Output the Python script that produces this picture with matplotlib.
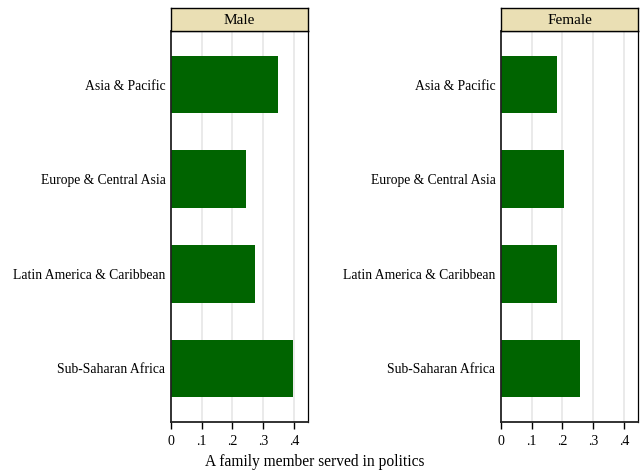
import matplotlib
matplotlib.use("Agg")
import matplotlib.pyplot as plt

# Dados
regioes = ["Asia & Pacific", "Europe & Central Asia", "Latin America & Caribbean", "Sub-Saharan Africa"]
homens = [0.347, 0.243, 0.273, 0.398]
mulheres = [0.183, 0.204, 0.182, 0.258]
paineis = ["Male", "Female"]
ticks_x = [0, 0.1, 0.2, 0.3, 0.4]
rotulos_x = ["0", ".1", ".2", ".3", ".4"]

plt.rcParams["font.family"] = ["Liberation Serif", "DejaVu Serif"]

W, H = 643, 475
fig = plt.figure(figsize=(W / 100, H / 100), dpi=100)

verde = "#006400"
bege = "#EADFB4"

def painel(x0, valores, titulo):
    ax = fig.add_axes([x0 / W, 1 - 422.3 / H, 137.3 / W, 391.6 / H])
    pos = list(range(len(regioes)))
    ax.barh(pos, valores, height=0.61, color=verde, edgecolor="none", zorder=3)
    ax.set_ylim(3.57, -0.57)
    ax.set_xlim(0, 0.447)
    ax.set_yticks(pos)
    ax.set_yticklabels(regioes, fontsize=9.8)
    ax.tick_params(axis="y", length=0, pad=4)
    ax.set_xticks(ticks_x)
    ax.set_xticklabels(rotulos_x, fontsize=10)
    ax.tick_params(axis="x", length=5, width=1, pad=4, direction="out")
    for t in ticks_x[1:]:
        ax.axvline(t, color="#e6e6e6", lw=1.2, zorder=1)
    for s in ["top", "right"]:
        ax.spines[s].set_linewidth(0.9)
        ax.spines[s].set_color("black")
    for s in ["left", "bottom"]:
        ax.spines[s].set_linewidth(1.3)
        ax.spines[s].set_color("#222222")
    ax.spines["left"].set_zorder(4)

    # cabeçalho do painel
    hd = fig.add_axes([x0 / W, 1 - 30.7 / H, 137.3 / W, 22.4 / H])
    hd.set_facecolor(bege)
    hd.set_xticks([])
    hd.set_yticks([])
    for s in hd.spines.values():
        s.set_linewidth(1.0)
        s.set_color("black")
    hd.text(0.5, 0.45, titulo, ha="center", va="center", fontsize=11)
    return ax

painel(171, homens, paineis[0])
painel(501, mulheres, paineis[1])

fig.text(315 / W, 1 - 462 / H, "A family member served in politics", ha="center", va="center", fontsize=11.2)

fig.savefig("out.png", dpi=100, facecolor="white")
